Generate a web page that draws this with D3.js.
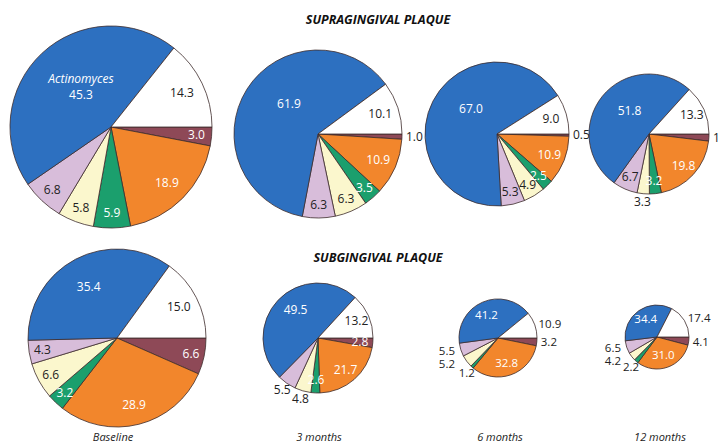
<!DOCTYPE html>
<html>
<head>
<meta charset="utf-8">
<script src="https://cdn.jsdelivr.net/npm/d3@7"></script>
<style>
  html, body { margin: 0; padding: 0; background: #ffffff; }
  svg { display: block; font-family: "Open Sans", "Noto Sans", sans-serif; }
</style>
</head>
<body>
<svg id="chart" width="718" height="444"></svg>
<script>
// ---------- DATA ----------
// Slices listed clockwise starting from 3 o'clock
const categories = ["Group 1", "Group 2", "Group 3", "Group 4", "Group 5", "Actinomyces", "Other"];
const timepoints = ["Baseline", "3 months", "6 months", "12 months"];
const sections = ["SUPRAGINGIVAL PLAQUE", "SUBGINGIVAL PLAQUE"];

const supraBaseline = [3.0, 18.9, 5.9, 5.8, 6.8, 45.3, 14.3];
const supra3m       = [1.0, 10.9, 3.5, 6.3, 6.3, 61.9, 10.1];
const supra6m       = [0.5, 10.9, 2.5, 4.9, 5.3, 67.0, 9.0];
const supra12m      = [1.9, 19.8, 3.2, 3.3, 6.7, 51.8, 13.3];

const subBaseline   = [6.6, 28.9, 3.2, 6.6, 4.3, 35.4, 15.0];
const sub3m         = [2.8, 21.7, 2.6, 4.8, 5.5, 49.5, 13.2];
const sub6m         = [3.2, 32.8, 1.2, 5.2, 5.5, 41.2, 10.9];
const sub12m        = [4.1, 31.0, 2.2, 4.2, 6.5, 34.4, 17.4];

// ---------- LAYOUT / STYLE ----------
const colors = ["#8e4957", "#f2862c", "#1b9f6d", "#fbf7cd", "#d8bdda", "#2d70c0", "#ffffff"];
const whiteText = [true, true, true, false, false, true, false];

const rows = [
  { title: sections[0], ty: 21, values: [supraBaseline, supra3m, supra6m, supra12m],
    cx: [111, 318, 497, 649], cy: [127, 134, 134, 134], r: [101, 84, 72, 60],
    out: [[0,0,0,0,0,0,0],[1,0,0,0,0,0,0],[1,0,0,0,0,0,0],[1,0,0,1,0,0,0]],
    blueF: 0.5 },
  { title: sections[1], ty: 259, values: [subBaseline, sub3m, sub6m, sub12m],
    cx: [117, 318, 498, 657], cy: [338, 338, 338, 337], r: [89, 55, 39, 32],
    out: [[0,0,0,0,0,0,0],[0,0,0,1,1,0,0],[1,0,1,1,1,0,1],[1,0,1,1,1,0,1]],
    blueF: 0.66 }
];
const bottomX = [113, 319, 500, 660];

const svg = d3.select("#chart");
const pie = d3.pie().sort(null).value(d => d).startAngle(Math.PI / 2).endAngle(Math.PI / 2 + 2 * Math.PI);

rows.forEach((row, ri) => {
  svg.append("text")
    .attr("x", 378).attr("y", row.ty)
    .attr("text-anchor", "middle").attr("dominant-baseline", "middle")
    .style("font-weight", 700).style("font-style", "italic")
    .style("font-size", "12.5px").attr("fill", "#111")
    .text(row.title);

  row.values.forEach((vals, pi) => {
    const R = row.r[pi];
    const g = svg.append("g").attr("transform", `translate(${row.cx[pi]},${row.cy[pi]})`);
    const arcs = pie(vals);
    const arc = d3.arc().innerRadius(0).outerRadius(R);
    g.selectAll("path").data(arcs).join("path")
      .attr("d", arc)
      .attr("fill", (d, i) => colors[i])
      .attr("stroke", "#3e2c2c").attr("stroke-width", 0.8)
      .attr("stroke-linejoin", "round");

    const labels = [];
    arcs.forEach((d, i) => {
      let a = (d.startAngle + d.endAngle) / 2;
      const isOut = row.out[pi][i] === 1;
      let x, y, anchor = "middle";
      if (i === 5) {
        a = 0.5 * a + 0.5 * (240 + 90) * Math.PI / 180;
        const rad = row.blueF * R;
        x = Math.sin(a) * rad; y = -Math.cos(a) * rad;
      } else if (isOut) {
        const s = Math.sin(a), c = -Math.cos(a);
        if (s > 0.75) { anchor = "start"; x = s * (R + 4); y = c * (R + 4); }
        else if (s < -0.75) { anchor = "end"; x = -(R + 4); y = c * (R + 4); }
        else { x = s * (R + 8); y = c * (R + 8); }
      } else {
        const f = (vals[i] < 8) ? 0.85 : 0.78;
        const rad = Math.min(f * R, R - 13);
        x = Math.sin(a) * rad; y = -Math.cos(a) * rad;
      }
      labels.push({ i, x, y, anchor, isOut });
    });

    // keep stacked left-side outside labels from overlapping
    const left = labels.filter(l => l.isOut && l.anchor === "end").sort((p, q) => p.y - q.y);
    for (let k = 1; k < left.length; k++) {
      if (left[k].y - left[k - 1].y < 13) left[k].y = left[k - 1].y + 13;
    }

    const fs = R < 45 ? "11.5px" : "12px";
    labels.forEach(l => {
      const i = l.i;
      const fill = (!l.isOut && whiteText[i]) ? "#ffffff" : "#222";
      if (ri === 0 && pi === 0 && i === 5) {
        const t = g.append("text").attr("text-anchor", "middle").attr("fill", "#fff").style("font-size", fs);
        t.append("tspan").attr("x", l.x).attr("y", l.y - 8).attr("dy", "0.35em")
          .style("font-style", "italic").text(categories[5]);
        t.append("tspan").attr("x", l.x).attr("y", l.y + 8).attr("dy", "0.35em").text(vals[i].toFixed(1));
      } else {
        g.append("text").attr("x", l.x).attr("y", l.y).attr("dy", "0.35em")
          .attr("text-anchor", l.anchor).attr("fill", fill).style("font-size", fs)
          .text(vals[i].toFixed(1));
      }
    });
  });
});

timepoints.forEach((t, i) => {
  svg.append("text").attr("x", bottomX[i]).attr("y", 438)
    .attr("text-anchor", "middle").attr("dominant-baseline", "middle")
    .style("font-style", "italic").style("font-size", "11px").attr("fill", "#222")
    .text(t);
});
</script>
</body>
</html>
